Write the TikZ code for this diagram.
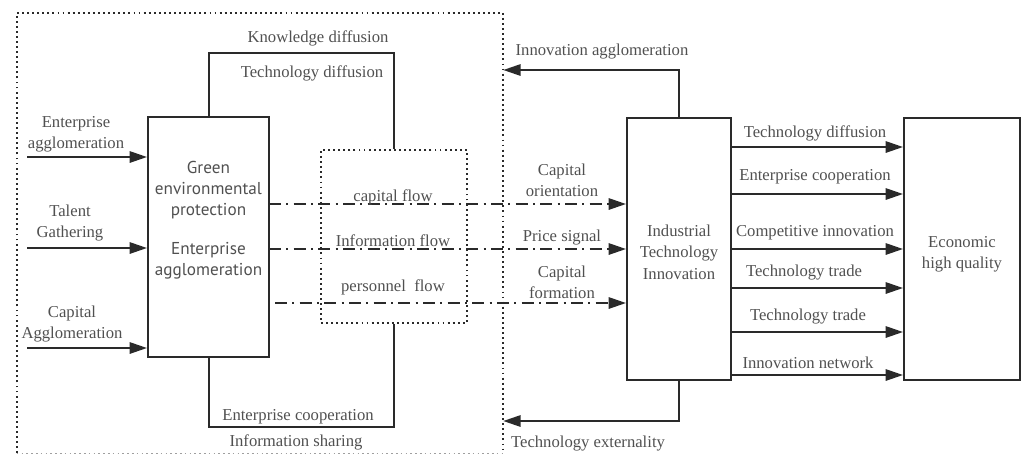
\documentclass[tikz,border=0pt]{standalone}
\usepackage{fontspec}
\setmainfont{Liberation Serif}
\newfontfamily\boxsans{PT Sans}
\usetikzlibrary{arrows.meta}
\definecolor{txt}{HTML}{505050}
\definecolor{ln}{HTML}{2A2A2A}
\tikzset{
  lbl/.style={text=txt, font=\fontsize{12.5}{16}\selectfont, inner sep=0pt, align=center},
  slbl/.style={text=txt, font=\boxsans\fontsize{12.9}{15.5}\selectfont, inner sep=0pt, align=center},
  blk/.style={draw=ln, line width=1.5pt, inner sep=0pt},
  dotbox/.style={draw=ln, line width=1.4pt, dash pattern=on 1.4pt off 2.4pt, inner sep=0pt},
  dotln/.style={draw=ln, line width=1.4pt, dash pattern=on 1.4pt off 2.4pt},
  lnk/.style={draw=ln, line width=1.5pt},
  arr/.style={draw=ln, line width=1.5pt, -{Triangle[length=13pt,width=8.5pt]}},
  dda/.style={draw=ln, line width=1.5pt, dash pattern=on 9pt off 4pt on 1.5pt off 4pt, -{Triangle[length=13pt,width=8.5pt]}},
}
\begin{document}
\begin{tikzpicture}[x=0.75pt,y=-0.75pt]
\useasboundingbox (0,0) rectangle (1028,455);
% boxes
\node[inner sep=0pt, minimum width=486*0.75pt, minimum height=440*0.75pt] (outer) at (260,233) {};
\draw[dotln] (outer.south west) -- (outer.north west) -- (outer.north east) -- (outer.south east);
\draw[draw=ln!45, line width=1pt, dash pattern=on 1.2pt off 2.4pt] (outer.south west) -- (outer.south east);
\node[blk, minimum width=121*0.75pt, minimum height=240*0.75pt] (green) at (208.5,237) {};
\node[dotbox, minimum width=146*0.75pt, minimum height=173*0.75pt] (inner) at (394,236.5) {};
\node[blk, minimum width=104*0.75pt, minimum height=262*0.75pt] (ind) at (679,249) {};
\node[blk, minimum width=116*0.75pt, minimum height=262*0.75pt] (eco) at (962,249) {};
% box texts
\node[slbl] (gt1) at (208.5,190) {Green\\environmental\\protection};
\node[slbl] (gt2) at (208.5,261) {Enterprise\\agglomeration};
\node[lbl] (indt) at (679,252) {Industrial\\Technology\\Innovation};
\node[lbl] (ecot) at (962,254) {Economic\\high quality};
% left inputs
\coordinate (in1) at (27,157);
\coordinate (in2) at (27,248);
\coordinate (in3) at (27,348);
\draw[arr] (in1) -- (in1 -| green.west);
\draw[arr] (in2) -- (in2 -| green.west);
\draw[arr] (in3) -- (in3 -| green.west);
\node[lbl] (l1) at (76,134) {Enterprise\\agglomeration};
\node[lbl] (l2) at (70,223) {Talent\\Gathering};
\node[lbl] (l3) at (72,324) {Capital\\Agglomeration};
% loops
\coordinate (kt) at (0,53);
\coordinate (kb) at (0,427);
\draw[lnk] (green.north) -- (green.north |- kt) -| (inner.north);
\draw[lnk] (green.south) -- (green.south |- kb) -| (inner.south);
\node[lbl] (kd) at (318,38) {Knowledge diffusion};
\node[lbl] (td) at (312,73) {Technology diffusion};
\node[lbl] (ec) at (298,417) {Enterprise cooperation};
\node[lbl] (is) at (296,442) {Information sharing};
% dash-dot flows
\coordinate (f1) at (269,204);
\coordinate (f2) at (269,249);
\coordinate (f3) at (275,303);
\draw[dda] (f1) -- (f1 -| ind.west);
\draw[dda] (f2) -- (f2 -| ind.west);
\draw[dda] (f3) -- (f3 -| ind.west);
\node[lbl] (cf) at (393,197) {capital flow};
\node[lbl] (if) at (393,241) {Information flow};
\node[lbl] (pf) at (393,287) {personnel\ \ flow};
\node[lbl] (co) at (562,180) {Capital\\orientation};
\node[lbl] (ps) at (562,238) {Price signal};
\node[lbl] (cfo) at (562,282) {Capital\\formation};
% right outputs
\foreach \y/\n in {147/r1,194/r2,249/r3,288/r4,332/r5,375/r6} {
  \coordinate (\n) at (731,\y);
  \draw[arr] (\n) -- (\n -| eco.west);
}
\node[lbl] (o1) at (815,133) {Technology diffusion};
\node[lbl] (o2) at (815,177) {Enterprise cooperation};
\node[lbl] (o3) at (815,233) {Competitive innovation};
\node[lbl] (o4) at (804,273) {Technology trade};
\node[lbl] (o5) at (808,317) {Technology trade};
\node[lbl] (o6) at (808,363) {Innovation network};
% feedback
\coordinate (fbt) at (0,70);
\coordinate (fbb) at (0,421);
\draw[arr] (ind.north) -- (ind.north |- fbt) -- (outer.east |- fbt);
\draw[arr] (ind.south) -- (ind.south |- fbb) -- (outer.east |- fbb);
\node[lbl] (ia) at (602,52) {Innovation agglomeration};
\node[lbl] (te) at (588,444) {Technology externality};
\end{tikzpicture}
\end{document}
